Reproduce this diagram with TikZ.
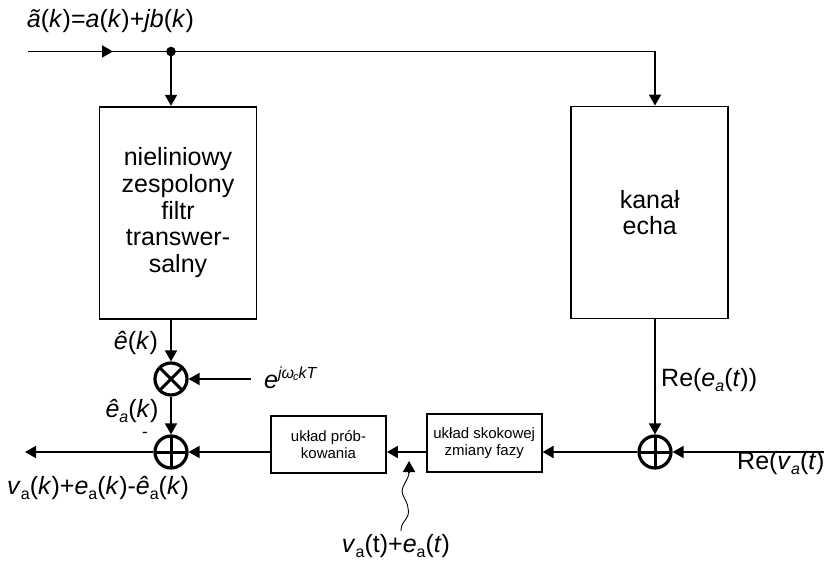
\documentclass[tikz,border=0pt]{standalone}
\usepackage{fontspec}
\setmainfont{Liberation Sans}
\usetikzlibrary{arrows.meta}
% lowered subscript in the text font
\newcommand\lsub[1]{\raisebox{-0.22em}{\fontsize{16}{16}\selectfont #1}}
\newcommand\bigtxt{\fontsize{25}{26.7}\selectfont}
\newcommand\smalltxt{\fontsize{15}{17.7}\selectfont}
\begin{document}
\begin{tikzpicture}[x=1pt,y=-1pt,
  wire/.style={line width=1.8pt},
  arr/.style={wire,-{Triangle[length=11pt,width=12pt]}},
  bigbox/.style={draw,line width=1.8pt,minimum width=157pt,minimum height=212pt,
    align=center,font=\bigtxt,inner sep=0pt},
  smallbox/.style={draw,line width=1.8pt,minimum width=115pt,minimum height=57.5pt,
    align=center,font=\smalltxt,inner sep=0pt},
  lbl/.style={font=\bigtxt,inner sep=0pt},
  junction/.style={circle,draw,line width=3.2pt,minimum size=32pt,inner sep=0pt},
  mult/.style={junction,path picture={
    \draw[line width=3pt] (path picture bounding box.north west) -- (path picture bounding box.south east)
      (path picture bounding box.north east) -- (path picture bounding box.south west);}},
  adder/.style={junction,path picture={
    \draw[line width=3pt] (path picture bounding box.north) -- (path picture bounding box.south)
      (path picture bounding box.west) -- (path picture bounding box.east);}}
]
\useasboundingbox (0,0) rectangle (824,561);
\clip (0,0) rectangle (824,561);

% blocks
\node[bigbox] (filt) at (178,212.7) {nieliniowy\\zespolony\\filtr\\transwer-\\salny};
\node[bigbox] (echo) at (649.7,212.5) {kanał\\echa};
\node[mult] (mul) at (171,379) {};
\node[adder] (addL) at (171,452) {};
\node[adder] (addR) at (655,452) {};
\node[smallbox] (samp) at (328.5,444.5) {układ prób-\\kowania};
\node[smallbox] (phase) at (484.2,443) {układ skokowej\\zmiany fazy};

% connection points
\coordinate (in) at (28,51.5);
\coordinate (inarr) at (113,51.5);
\coordinate (split) at (171,51.5);
\coordinate (corner) at (655,51.5);
\coordinate (expsrc) at (250.7,379);
\coordinate (rin) at (830,452);
\coordinate (out) at (25,452);
\coordinate (wave) at (401,531);
\coordinate (tapbase) at (409,472.5);
\coordinate (tap) at (409,461);

% signal paths
\draw[wire] (in) -- (corner);
\draw[arr] (in) -- (inarr);
\fill (split) circle (4.8pt);
\draw[arr] (corner) -- (corner |- echo.north);
\draw[arr] (split) -- (split |- filt.north);
\draw[arr] (split |- filt.south) -- (mul.north);
\draw[arr] (mul.south) -- (addL.north);
\draw[arr] (expsrc) -- (mul.east);
\draw[arr] (corner |- echo.south) -- (addR.north);
\draw[arr] (rin) -- (addR.east);
\draw[arr] (addR.west) -- (phase.east |- addR.west);
\draw[arr] (phase.west |- addR.west) -- (samp.east |- addR.west);
\draw[arr] (samp.west |- addL.east) -- (addL.east);
\draw[arr] (addL.west) -- (out);

% wavy injection of the continuous-time signal
\draw[line width=0.9pt] plot[smooth] coordinates
  {(wave) (402,525) (408,515) (407.5,505) (402,491) (408,477) (tapbase)};
\draw[arr] (tapbase) -- (tap);

% labels
\node[lbl] (lin) at (110.5,21.5)
  {\textit{ã}(\textit{k})=\textit{a}(\textit{k})+\textit{jb}(\textit{k})};
\node[lbl] (lehat) at (136,343) {\textit{ê}(\textit{k})};
\node[lbl] (leahat) at (132,411) {\textit{ê}\lsub{\textit{a}}(\textit{k})};
\node[font=\fontsize{17}{17}\selectfont,inner sep=0pt] (minus) at (145,435) {-};
\node[lbl,anchor=base west] (lexp) at (264,388)
  {\textit{e}\raisebox{10pt}{\fontsize{16}{16}\selectfont\textit{jω}\kern-1pt\raisebox{-2pt}{\fontsize{11}{11}\selectfont\textit{c}}\textit{kT}}};
\node[lbl,anchor=west] (lrea) at (661,380) {Re(\textit{e}\lsub{\textit{a}}(\textit{t}))};
\node[lbl,anchor=west] (lrev) at (737,463) {Re(\textit{v}\lsub{\textit{a}}(\textit{t}))};
\node[lbl,anchor=west] (lout) at (7,488)
  {\textit{v}\lsub{a}(\textit{k})+\textit{e}\lsub{a}(\textit{k})-\textit{ê}\lsub{a}(\textit{k})};
\node[lbl] (lsum) at (396,546) {\textit{v}\lsub{a}(t)+\textit{e}\lsub{a}(\textit{t})};
\end{tikzpicture}
\end{document}
